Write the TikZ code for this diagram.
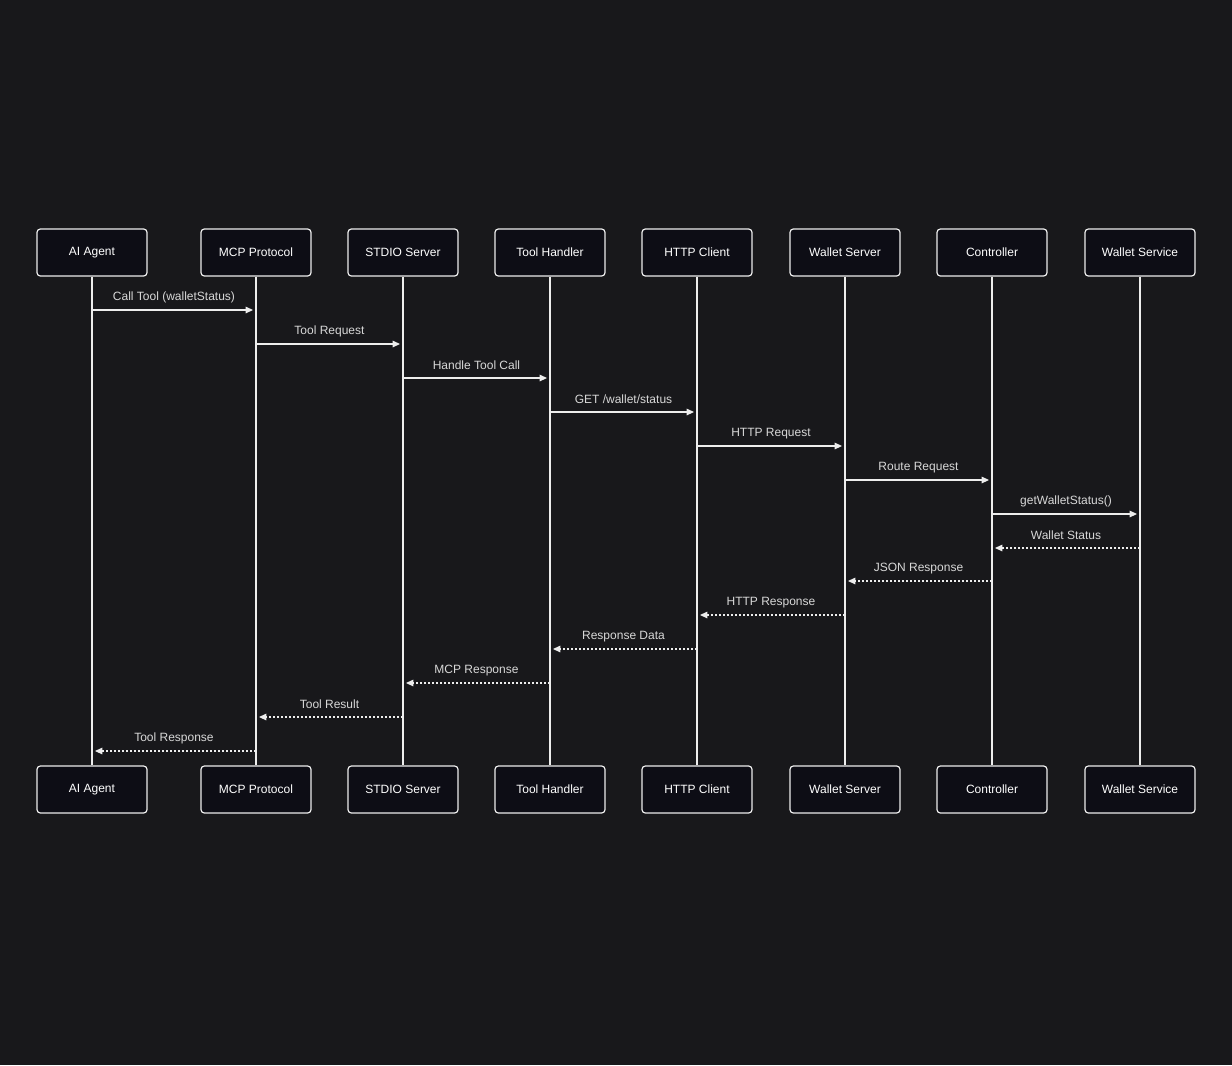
\documentclass[tikz,border=0pt]{standalone}
\usepackage{fontspec}
\setmainfont{Liberation Sans}
\usetikzlibrary{arrows.meta,positioning,calc}
\definecolor{cBg}{HTML}{18181B}
\definecolor{cBox}{HTML}{0D0D15}
\definecolor{cLine}{HTML}{EDEDED}
\definecolor{cLabel}{HTML}{D8D8D8}

\begin{document}
\begin{tikzpicture}[
    x=0.75pt, y=-0.75pt,
    font=\fontsize{9}{11}\selectfont,
    actor/.style={draw=cLine, line width=0.9pt, fill=cBox, rounded corners=2.5pt, minimum width=82.5pt, minimum height=35.25pt, text=white, inner sep=0pt},
    life/.style={draw=cLine, line width=0.9pt},
    msg/.style={draw=cLine, line width=0.9pt, -{Triangle[length=5.5pt,width=4.8pt]}, shorten >=2.2pt},
    ret/.style={msg, dash pattern=on 1.5pt off 1.5pt},
    lbl/.style={midway, yshift=9.6pt, text=cLabel, inner sep=0pt}
]

\useasboundingbox[fill=cBg] (0,0) rectangle (1232,1065);

% participants, top row
\node[actor] (agentTop)   at (92,252.5)   {AI Agent};
\node[actor] (protoTop)   at (256,252.5)  {MCP Protocol};
\node[actor] (stdioTop)   at (403,252.5)  {STDIO Server};
\node[actor] (handlerTop) at (550,252.5)  {Tool Handler};
\node[actor] (httpTop)    at (697,252.5)  {HTTP Client};
\node[actor] (serverTop)  at (845,252.5)  {Wallet Server};
\node[actor] (ctrlTop)    at (992,252.5)  {Controller};
\node[actor] (serviceTop) at (1140,252.5) {Wallet Service};

% participants, bottom row
\node[actor] (agentBot)   at (92,789.5)   {AI Agent};
\node[actor] (protoBot)   at (256,789.5)  {MCP Protocol};
\node[actor] (stdioBot)   at (403,789.5)  {STDIO Server};
\node[actor] (handlerBot) at (550,789.5)  {Tool Handler};
\node[actor] (httpBot)    at (697,789.5)  {HTTP Client};
\node[actor] (serverBot)  at (845,789.5)  {Wallet Server};
\node[actor] (ctrlBot)    at (992,789.5)  {Controller};
\node[actor] (serviceBot) at (1140,789.5) {Wallet Service};

% lifelines
\draw[life] (agentTop) -- (agentBot);
\draw[life] (protoTop) -- (protoBot);
\draw[life] (stdioTop) -- (stdioBot);
\draw[life] (handlerTop) -- (handlerBot);
\draw[life] (httpTop) -- (httpBot);
\draw[life] (serverTop) -- (serverBot);
\draw[life] (ctrlTop) -- (ctrlBot);
\draw[life] (serviceTop) -- (serviceBot);

% requests
\draw[msg] (agentTop |- 0,310) -- (protoTop |- 0,310) node[lbl] {Call Tool (walletStatus)};
\draw[msg] (protoTop |- 0,344) -- (stdioTop |- 0,344) node[lbl] {Tool Request};
\draw[msg] (stdioTop |- 0,378) -- (handlerTop |- 0,378) node[lbl] {Handle Tool Call};
\draw[msg] (handlerTop |- 0,412) -- (httpTop |- 0,412) node[lbl] {GET /wallet/status};
\draw[msg] (httpTop |- 0,446) -- (serverTop |- 0,446) node[lbl] {HTTP Request};
\draw[msg] (serverTop |- 0,480) -- (ctrlTop |- 0,480) node[lbl] {Route Request};
\draw[msg] (ctrlTop |- 0,514) -- (serviceTop |- 0,514) node[lbl] {getWalletStatus()};

% replies
\draw[ret] (serviceTop |- 0,548) -- (ctrlTop |- 0,548) node[lbl] {Wallet Status};
\draw[ret] (ctrlTop |- 0,581) -- (serverTop |- 0,581) node[lbl] {JSON Response};
\draw[ret] (serverTop |- 0,615) -- (httpTop |- 0,615) node[lbl] {HTTP Response};
\draw[ret] (httpTop |- 0,649) -- (handlerTop |- 0,649) node[lbl] {Response Data};
\draw[ret] (handlerTop |- 0,683) -- (stdioTop |- 0,683) node[lbl] {MCP Response};
\draw[ret] (stdioTop |- 0,717) -- (protoTop |- 0,717) node[lbl] {Tool Result};
\draw[ret] (protoTop |- 0,751) -- (agentTop |- 0,751) node[lbl] {Tool Response};

\end{tikzpicture}
\end{document}
